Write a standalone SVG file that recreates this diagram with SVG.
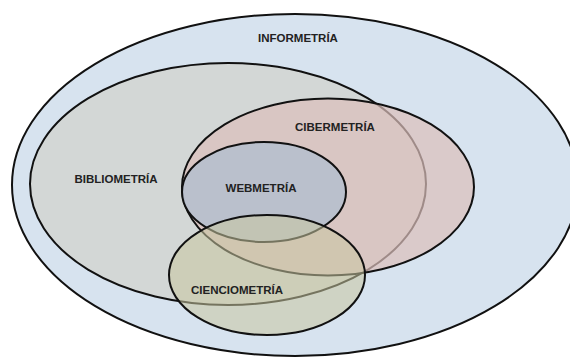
<svg xmlns="http://www.w3.org/2000/svg" width="570" height="358" viewBox="0 0 570 358">
<style>
.e{stroke:#111;stroke-width:2}
.t{font-family:"Liberation Sans",Arial,sans-serif;font-weight:bold;font-size:11.5px;fill:#222;text-anchor:middle}
</style>
<rect width="570" height="358" fill="#ffffff"/>
<g id="informetria">
<ellipse class="e" cx="295" cy="185" rx="283" ry="171" fill="#d7e3ef"/>
<text class="t" x="298" y="42">INFORMETRÍA</text>
</g>
<g id="bibliometria">
<ellipse class="e" cx="228" cy="184" rx="198" ry="121" fill="#d3d7d6"/>
<text class="t" x="116" y="183">BIBLIOMETRÍA</text>
</g>
<g id="cibermetria">
<ellipse class="e" cx="328" cy="187" rx="146" ry="88.5" fill="#dbbfba" fill-opacity="0.7"/>
<text class="t" x="335" y="131">CIBERMETRÍA</text>
</g>
<g id="webmetria">
<ellipse class="e" cx="264" cy="192" rx="82" ry="50" fill="#b6bfcd" fill-opacity="0.9"/>
<text class="t" x="261" y="192">WEBMETRÍA</text>
</g>
<g id="cienciometria">
<ellipse class="e" cx="267" cy="275" rx="98" ry="60" fill="#c8c6a0" fill-opacity="0.55"/>
<text class="t" x="237" y="294">CIENCIOMETRÍA</text>
</g>
<g id="connectors"/>
</svg>
